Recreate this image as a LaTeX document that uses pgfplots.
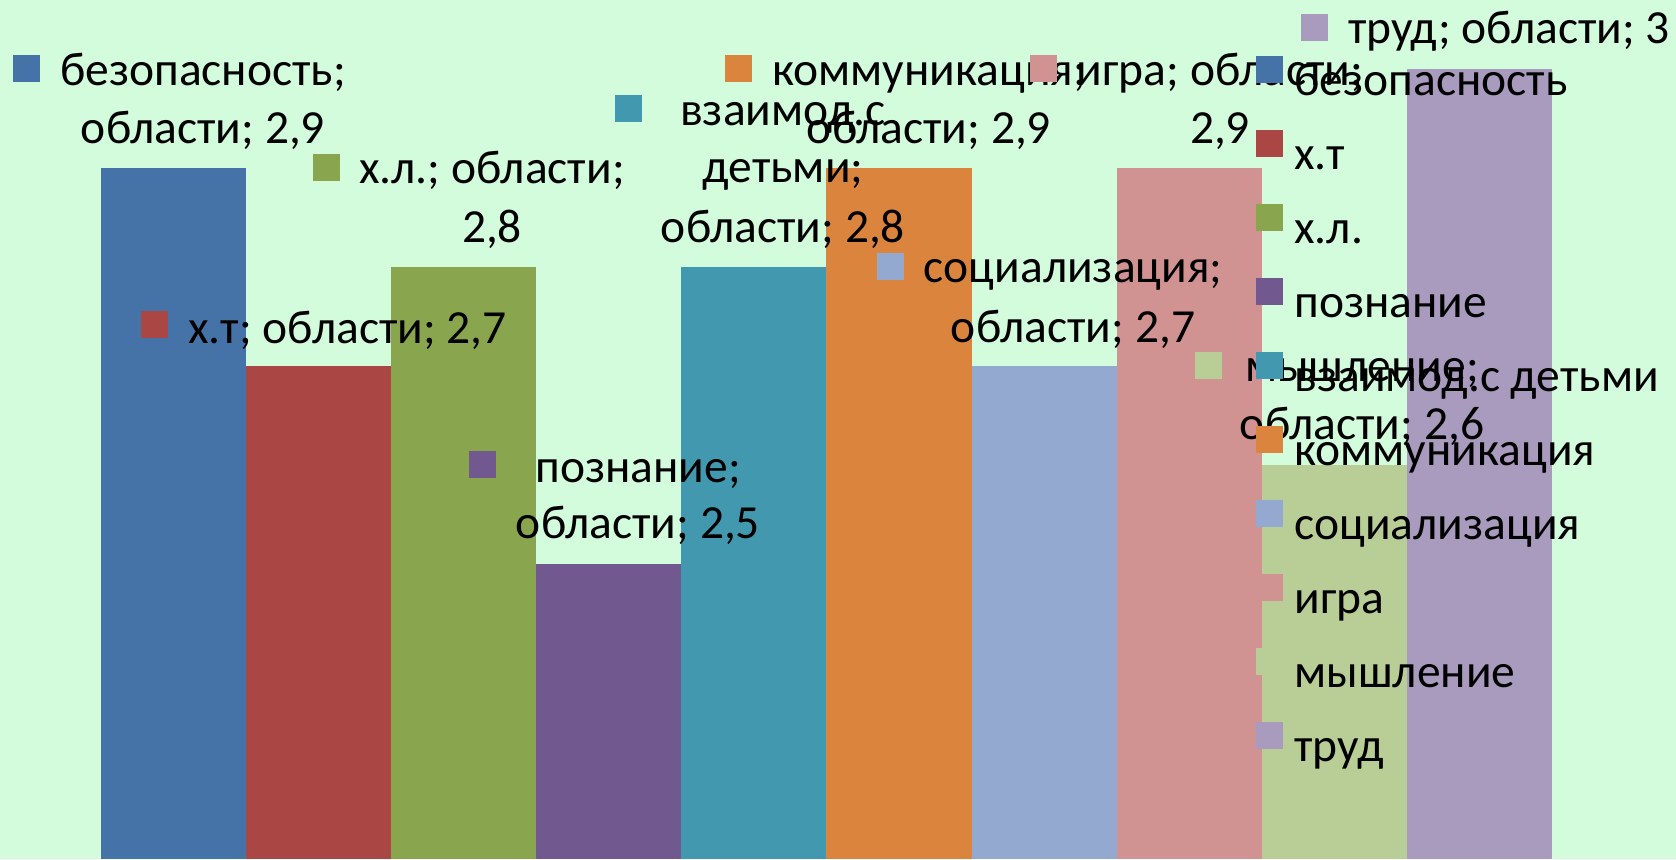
\documentclass[border=0pt]{standalone}
\usepackage{fontspec}
\setmainfont{Carlito}
\usepackage{pgfplots}
\pgfplotsset{compat=1.18}

\definecolor{bg}{HTML}{D2FCDC}
\definecolor{c1}{HTML}{4572A7}
\definecolor{c2}{HTML}{AA4643}
\definecolor{c3}{HTML}{89A54E}
\definecolor{c4}{HTML}{71588F}
\definecolor{c5}{HTML}{4198AF}
\definecolor{c6}{HTML}{DB843D}
\definecolor{c7}{HTML}{93A9CF}
\definecolor{c8}{HTML}{D19392}
\definecolor{c9}{HTML}{B9CD96}
\definecolor{c10}{HTML}{A99BBD}

\pgfplotsset{
  sq/.style={ybar, bar width=1, bar shift=0pt, draw=none, fill=#1,
    legend image code/.code={\fill[#1] (0pt,-0.5pt) rectangle (13.5pt,13pt);}},
}
% positions measured in pixels of the reference, from its top left corner
\tikzset{at px/.style 2 args={xshift=#1*0.5pt, yshift=-#2*0.5pt}}
\newcommand\lab[3]{\node[at px={#1}{#2}, anchor=base, inner sep=0pt] at (rel axis cs:0,1) {#3};}
\newcommand\mk[3]{\node[at px={#1}{#2}, anchor=south west, inner sep=0pt, minimum size=13.5pt, fill=#3] at (rel axis cs:0,1) {};}

\begin{document}
\begin{tikzpicture}[font=\fontsize{23.75pt}{29pt}\selectfont]
\fill[bg] (0,0) rectangle (838pt,429.5pt);
\begin{axis}[
  at={(0,0)}, anchor=south west,
  scale only axis, width=838pt, height=429.5pt,
  hide axis,
  xmin=-0.196, xmax=11.355,
  ymin=2.202, ymax=3.0697,
  legend cell align=left,
  legend style={at={(0.7494,0.9354)}, anchor=north west,
    draw=none, fill=none, inner sep=0pt, row sep=11pt,
    font=\fontsize{23.75pt}{29pt}\selectfont,
    nodes={inner sep=0pt, text height=20pt, text depth=6pt},
    /tikz/every odd column/.append style={column sep=5.5pt}},
]
\addplot[sq=c1] coordinates {(1,2.9)};
\addlegendentry{безопасность}
\addplot[sq=c2] coordinates {(2,2.7)};
\addlegendentry{х.т}
\addplot[sq=c3] coordinates {(3,2.8)};
\addlegendentry{х.л.}
\addplot[sq=c4] coordinates {(4,2.5)};
\addlegendentry{познание}
\addplot[sq=c5] coordinates {(5,2.8)};
\addlegendentry{взаимод.с детьми}
\addplot[sq=c6] coordinates {(6,2.9)};
\addlegendentry{коммуникация}
\addplot[sq=c7] coordinates {(7,2.7)};
\addlegendentry{социализация}
\addplot[sq=c8] coordinates {(8,2.9)};
\addlegendentry{игра}
\addplot[sq=c9] coordinates {(9,2.6)};
\addlegendentry{мышление}
\addplot[sq=c10] coordinates {(10,3)};
\addlegendentry{труд}

% data labels
\mk{13}{82}{c1}
\lab{203}{85}{безопасность;}
\lab{203}{143}{области; 2,9}
\mk{141}{338}{c2}
\lab{347.5}{343}{х.т; области; 2,7}
\mk{313}{181}{c3}
\lab{492}{183}{х.л.; области;}
\lab{492}{242}{2,8}
\mk{469}{478}{c4}
\lab{638}{482}{познание;}
\lab{638}{538}{области; 2,5}
\mk{615}{122}{c5}
\lab{783}{125}{взаимод.с}
\lab{783}{182}{детьми;}
\lab{783}{242}{области; 2,8}
\mk{725}{82}{c6}
\lab{929}{85}{коммуникация;}
\lab{929}{143}{области; 2,9}
\mk{877}{280}{c7}
\lab{1073}{282}{социализация;}
\lab{1073}{342}{области; 2,7}
\mk{1030}{82}{c8}
\lab{1220}{85}{игра; области;}
\lab{1220}{143}{2,9}
\mk{1195}{379}{c9}
\lab{1362}{381}{мышление;}
\lab{1362}{439}{области; 2,6}
\mk{1301}{41}{c10}
\lab{1509}{43}{труд; области; 3}
\end{axis}
\end{tikzpicture}
\end{document}
